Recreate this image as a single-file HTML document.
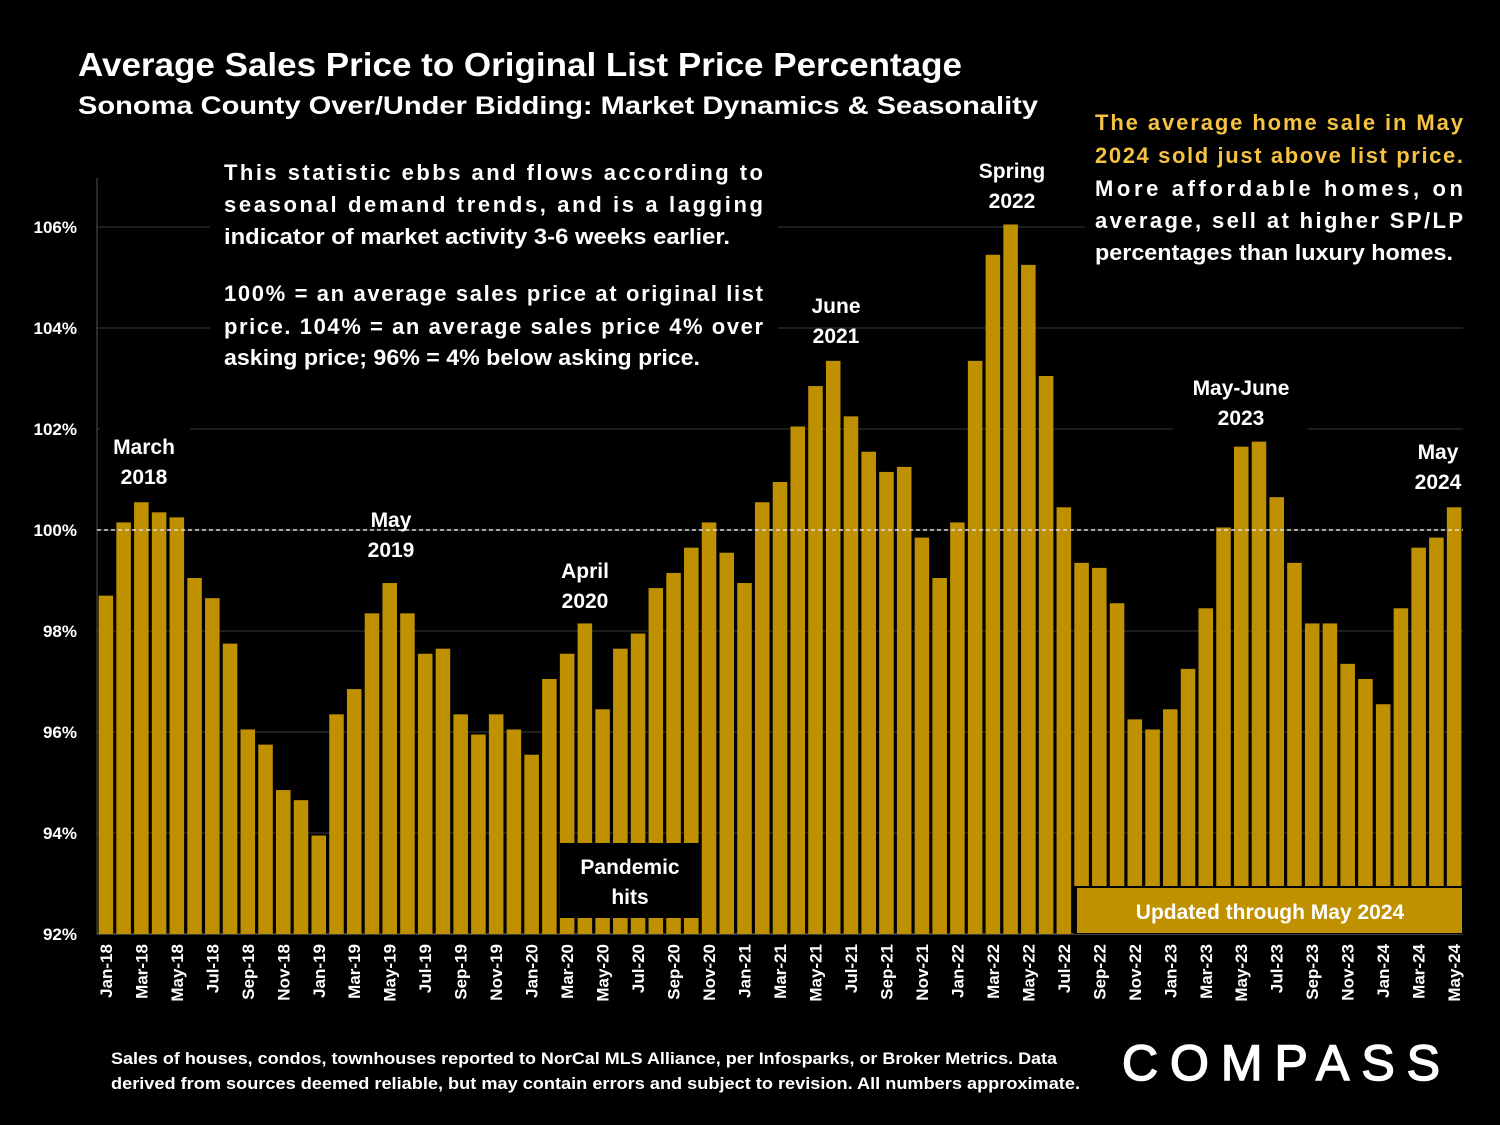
<!DOCTYPE html>
<html><head><meta charset="utf-8"><style>
body{margin:0;background:#000;}
svg{display:block;font-family:"Liberation Sans",sans-serif;font-weight:bold;}
</style></head><body>
<svg id="chart" width="1500" height="1125" viewBox="0 0 1500 1125">
<rect width="1500" height="1125" fill="#000"/>
<g id="grid"></g>
<g id="bars"></g>
<g id="xlabels"></g>
<g id="ylabels"></g>
<line x1="97" y1="530" x2="1463" y2="530" stroke="#ddd" stroke-width="1.5" stroke-dasharray="4,3"/>
<text x="78" y="76" fill="#fff" font-size="33" textLength="884" lengthAdjust="spacingAndGlyphs">Average Sales Price to Original List Price Percentage</text>
<text x="78" y="114" fill="#fff" font-size="25" textLength="960" lengthAdjust="spacingAndGlyphs">Sonoma County Over/Under Bidding: Market Dynamics &amp; Seasonality</text>
<rect x="210" y="150" width="568" height="225" fill="#000"/>
<g fill="#fff" font-size="22">
<text x="224" y="180" textLength="539" lengthAdjust="spacing">This statistic ebbs and flows according to</text>
<text x="224" y="212" textLength="539" lengthAdjust="spacing">seasonal demand trends, and is a lagging</text>
<text x="224" y="244" textLength="506" lengthAdjust="spacingAndGlyphs">indicator of market activity 3-6 weeks earlier.</text>
<text x="224" y="301" textLength="539" lengthAdjust="spacing">100% = an average sales price at original list</text>
<text x="224" y="334" textLength="539" lengthAdjust="spacing">price. 104% = an average sales price 4% over</text>
<text x="224" y="365" textLength="476" lengthAdjust="spacingAndGlyphs">asking price; 96% = 4% below asking price.</text>
</g>
<rect x="1085" y="100" width="390" height="170" fill="#000"/>
<g font-size="22">
<text x="1095" y="130" fill="#f5c242" textLength="368" lengthAdjust="spacing">The average home sale in May</text>
<text x="1095" y="163" fill="#f5c242" textLength="368" lengthAdjust="spacing">2024 sold just above list price.</text>
<text x="1095" y="196" fill="#fff" textLength="368" lengthAdjust="spacing">More affordable homes, on</text>
<text x="1095" y="228" fill="#fff" textLength="368" lengthAdjust="spacing">average, sell at higher SP/LP</text>
<text x="1095" y="260" fill="#fff" textLength="358" lengthAdjust="spacingAndGlyphs">percentages than luxury homes.</text>
</g>
<g fill="#fff" font-size="21" text-anchor="middle">
<rect x="100" y="425" width="90" height="75" fill="#000"/>
<text x="144" y="454">March</text><text x="144" y="484">2018</text>
<text x="391" y="527">May</text><text x="391" y="557">2019</text>
<text x="585" y="578">April</text><text x="585" y="608">2020</text>
<text x="836" y="313">June</text><text x="836" y="343">2021</text>
<text x="1012" y="178">Spring</text><text x="1012" y="208">2022</text>
<rect x="1173" y="372" width="135" height="58" fill="#000"/>
<text x="1241" y="395">May-June</text><text x="1241" y="425">2023</text>
<text x="1438" y="459">May</text><text x="1438" y="489">2024</text>
</g>
<rect x="560" y="843" width="140" height="75" fill="#000"/>
<text x="630" y="874" fill="#fff" font-size="21" text-anchor="middle">Pandemic</text>
<text x="630" y="904" fill="#fff" font-size="21" text-anchor="middle">hits</text>
<rect x="1074" y="886" width="389" height="48" fill="#000"/>
<rect x="1077" y="888" width="385" height="45" fill="#bf9000"/>
<text x="1270" y="919" fill="#fff" font-size="21" text-anchor="middle">Updated through May 2024</text>
<g fill="#fff" font-size="17">
<text x="111" y="1064" textLength="946" lengthAdjust="spacingAndGlyphs">Sales of houses, condos, townhouses reported to NorCal MLS Alliance, per Infosparks, or Broker Metrics. Data</text>
<text x="111" y="1089" textLength="969" lengthAdjust="spacingAndGlyphs">derived from sources deemed reliable, but may contain errors and subject to revision. All numbers approximate.</text>
</g>
<g>
<text x="1122" y="1080" fill="#fff" font-size="50" font-weight="normal" textLength="318" lengthAdjust="spacing" stroke="#fff" stroke-width="1.5">COMPASS</text>
</g>
<script>
const months=["Jan","Feb","Mar","Apr","May","Jun","Jul","Aug","Sep","Oct","Nov","Dec"];
const categories=[];
for(let y=18;y<=24;y++){for(let m=0;m<12;m++){if(y===24&&m>4)break;categories.push(months[m]+"-"+y);}}
const values=[98.7,100.15,100.55,100.35,100.25,99.05,98.65,97.75,96.05,95.75,94.85,94.65,
93.95,96.35,96.85,98.35,98.95,98.35,97.55,97.65,96.35,95.95,96.35,96.05,
95.55,97.05,97.55,98.15,96.45,97.65,97.95,98.85,99.15,99.65,100.15,99.55,
98.95,100.55,100.95,102.05,102.85,103.35,102.25,101.55,101.15,101.25,99.85,99.05,
100.15,103.35,105.45,106.05,105.25,103.05,100.45,99.35,99.25,98.55,96.25,96.05,
96.45,97.25,98.45,100.05,101.65,101.75,100.65,99.35,98.15,98.15,97.35,97.05,
96.55,98.45,99.65,99.85,100.45];
const yTicks=[92,94,96,98,100,102,104,106];
const ns="http://www.w3.org/2000/svg";
const x0=97,x1=1463,yBase=934,pxPer=50.5;
const step=(x1-x0)/categories.length;
const xS=i=>x0+step*(i+0.5);
const yS=v=>yBase-(v-92)*pxPer;
function mk(tag,attrs,parent){const e=document.createElementNS(ns,tag);for(const k in attrs)e.setAttribute(k,attrs[k]);document.getElementById(parent).appendChild(e);return e;}
yTicks.forEach(t=>{
  const l=mk("line",{x1:x0,x2:x1,y1:yS(t),y2:yS(t),stroke:"#3a3a3a","stroke-width":1},"grid");
  
  
  const tx=mk("text",{x:77,y:yS(t)+6,fill:"#fff","font-size":17,"text-anchor":"end"},"ylabels");
  tx.textContent=t+"%";
  
  
});
const ax=mk("line",{x1:x0,x2:x0,y1:178,y2:yBase,stroke:"#555","stroke-width":1},"grid");


const bx=mk("line",{x1:x0,x2:x1,y1:yBase,y2:yBase,stroke:"#777","stroke-width":1},"grid");


values.forEach((v,i)=>{
  const w=step*0.82;
  const r=mk("rect",{x:xS(i)-w/2,y:yS(v),width:w,height:yBase-yS(v),fill:"#bf9000"},"bars");
  
  
  if(i%2===0){
    const t=mk("text",{x:0,y:0,fill:"#fff","font-size":17,"text-anchor":"end",transform:`translate(${xS(i)+6},${yBase+10}) rotate(-90)`},"xlabels");
    t.textContent=categories[i];
    
    
  }
});
</script>
</svg>
</body></html>
